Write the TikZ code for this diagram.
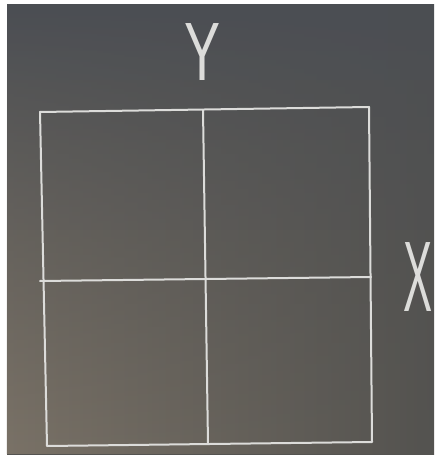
\documentclass[tikz,border=0pt]{standalone}
\usepackage{fontspec}
\setmainfont{Liberation Sans}
\usetikzlibrary{fadings}
\definecolor{board}{HTML}{4B4E53}
\definecolor{boardlow}{HTML}{545350}
\definecolor{boardbrown}{HTML}{7A7267}
\definecolor{chalk}{HTML}{DCDCDA}
\tikzset{
	chalkline/.style={line width=0.5mm, chalk, line cap=round, line join=round},
	chalklabel/.style={text=chalk, inner sep=0pt, font=\fontsize{62}{62}\selectfont}
}
\begin{document}
	\begin{tikzpicture}[x=0.25mm, y=-0.25mm]
		\useasboundingbox (0,0) rectangle (434,455);
		% Фон: поля и доска
		\fill[white] (0,0) rectangle (434,455);
		\shade[top color=board, bottom color=boardlow] (7,5) rectangle (434,454);
		\shade[left color=boardbrown, right color=boardlow, path fading=north] (7,5) rectangle (434,454);
		
		% Углы квадрата
		\coordinate (tl) at (40,112);
		\coordinate (tr) at (369,107);
		\coordinate (br) at (372,442);
		\coordinate (bl) at (47,446);
		
		% Средние линии
		\coordinate (midtop) at (203,110);
		\coordinate (midbot) at (208,444);
		\coordinate (midleft) at (40,281);
		\coordinate (midright) at (371,277);
		
		\draw[chalkline] (tl) -- (tr) -- (br) -- (bl) -- cycle;
		\draw[chalkline] (midtop) -- (midbot);
		\draw[chalkline] (midleft) -- (midright);
		
		% Подписи осей
		\node[chalklabel, xscale=0.62, yscale=0.95] (ylabel) at (202.5,52) {Y};
		\node[chalklabel, xscale=0.5, yscale=1.15] (xlabel) at (418,277) {X};
	\end{tikzpicture}
\end{document}
